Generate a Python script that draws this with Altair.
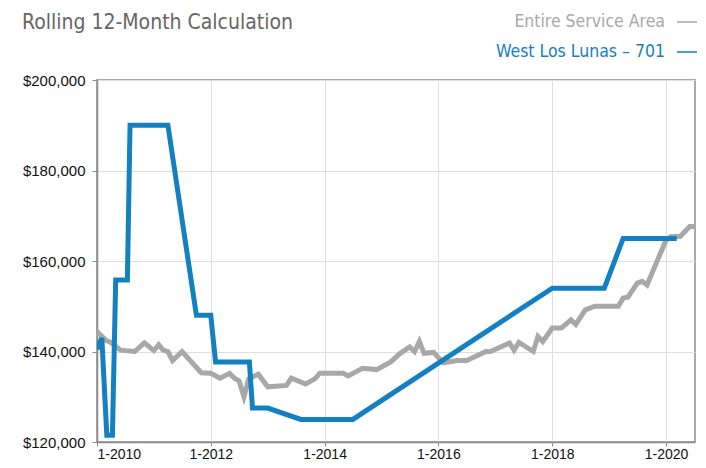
import altair as alt
import pandas as pd

# ---- data ----
gray_name = "Entire Service Area"
blue_name = "West Los Lunas \u2013 701"

gray_dates = ["2010-01-01", "2010-03-01", "2010-04-01", "2010-06-01", "2010-09-01", "2010-11-01",
              "2011-01-01", "2011-02-01", "2011-03-01", "2011-04-01", "2011-05-01", "2011-07-01",
              "2011-11-01", "2012-01-01", "2012-03-01", "2012-05-01", "2012-06-01", "2012-07-01",
              "2012-08-01", "2012-09-01", "2012-11-01", "2013-01-01", "2013-05-01", "2013-06-01",
              "2013-09-01", "2013-11-01", "2013-12-01", "2014-05-01", "2014-06-01", "2014-09-01",
              "2014-12-01", "2015-03-01", "2015-05-01", "2015-07-01", "2015-08-01", "2015-09-01",
              "2015-10-01", "2015-12-01", "2016-02-01", "2016-05-01", "2016-07-01", "2016-11-01",
              "2016-12-01", "2017-04-01", "2017-05-01", "2017-06-01", "2017-09-01", "2017-10-01",
              "2017-11-01", "2018-01-01", "2018-03-01", "2018-05-01", "2018-06-01", "2018-08-01",
              "2018-10-01", "2019-03-01", "2019-04-01", "2019-05-01", "2019-07-01", "2019-08-01",
              "2019-09-01", "2020-01-01", "2020-02-01", "2020-04-01", "2020-06-01", "2020-07-01"]
gray_values = [144400, 142400, 142000, 140300, 140000, 141900,
               140200, 141500, 140300, 140000, 138000, 140000,
               135300, 135200, 134100, 135200, 134100, 133500,
               130000, 134000, 135000, 132200, 132500, 134100,
               132800, 134000, 135200, 135200, 134600, 136300,
               136000, 137700, 139600, 141000, 140000, 142200,
               139600, 139800, 137500, 138000, 138000, 140000,
               140000, 141900, 140300, 142000, 140000, 143300,
               142200, 145200, 145200, 147000, 146000, 149200,
               150000, 150000, 151800, 152000, 155100, 155500,
               154700, 164600, 165400, 165400, 167600, 167600]

blue_dates = ["2010-01-01", "2010-02-01", "2010-03-05", "2010-04-10", "2010-05-01", "2010-07-15",
              "2010-08-01", "2011-04-01", "2011-10-01", "2012-01-01", "2012-02-01", "2012-09-05",
              "2012-09-25", "2013-01-01", "2013-08-01", "2014-07-01", "2018-01-01", "2018-12-01",
              "2019-04-01", "2020-03-10"]
blue_values = [140500, 143000, 121500, 121500, 155800, 155800,
               190000, 190000, 148000, 148000, 137700, 137700,
               127500, 127500, 125000, 125000, 154000, 154000,
               165000, 165000]

y_ticks = [120000, 140000, 160000, 180000, 200000]
x_tick_years = [2010, 2012, 2014, 2016, 2018, 2020]
title_text = "Rolling 12-Month Calculation"

GRAY = "#a8a8a8"
BLUE = "#1580c1"
FONT = "Liberation Sans"
NARROW = "DejaVu Sans Condensed, Roboto, sans-serif"

gray_df = pd.DataFrame({"date": gray_dates, "value": gray_values, "series": gray_name})
blue_df = pd.DataFrame({"date": blue_dates, "value": blue_values, "series": blue_name})

x_enc = alt.X("date:T",
              scale=alt.Scale(type="utc", domain=[alt.DateTime(year=2010, month=1, date=1, utc=True),
                                                  alt.DateTime(year=2020, month=7, date=5, utc=True)]),
              axis=alt.Axis(values=[alt.DateTime(year=y, month=1, date=1, utc=True) for y in x_tick_years],
                            format="1-%Y", title=None, labelPadding=1, tickSize=4, labelFontSize=14))
y_enc = alt.Y("value:Q",
              scale=alt.Scale(domain=[120000, 200000], nice=False, zero=False),
              axis=alt.Axis(values=y_ticks, format="$,.0f", title=None, labelPadding=7, tickSize=5,
                            labelFontSize=15))

gray_line = alt.Chart(gray_df).mark_line(color=GRAY, strokeWidth=5, clip=True).encode(x=x_enc, y=y_enc)
blue_line = alt.Chart(blue_df).mark_line(color=BLUE, strokeWidth=5, clip=True).encode(x=x_enc, y=y_enc)

title_df = pd.DataFrame({"t": [title_text]})
title_mark = alt.Chart(title_df).mark_text(
    align="left", baseline="alphabetic", font=NARROW, fontSize=21, color="#666666"
).encode(x=alt.value(-75), y=alt.value(-51), text="t:N")

leg_gray = alt.Chart(pd.DataFrame({"s": [gray_name]})).mark_text(
    align="right", baseline="alphabetic", font=NARROW, fontSize=17.5, color=GRAY
).encode(x=alt.value(568), y=alt.value(-53), text="s:N")
leg_blue = alt.Chart(pd.DataFrame({"s": [blue_name]})).mark_text(
    align="right", baseline="alphabetic", font=NARROW, fontSize=17.5, color=BLUE
).encode(x=alt.value(568), y=alt.value(-23), text="s:N")
dash_gray = alt.Chart(pd.DataFrame({"s": [gray_name]})).mark_rule(color=GRAY, strokeWidth=1.5).encode(
    x=alt.value(580), x2=alt.value(600), y=alt.value(-58))
dash_blue = alt.Chart(pd.DataFrame({"s": [blue_name]})).mark_rule(color=BLUE, strokeWidth=1.5).encode(
    x=alt.value(580), x2=alt.value(600), y=alt.value(-28))

chart = alt.layer(gray_line, blue_line, title_mark, leg_gray, leg_blue, dash_gray, dash_blue).properties(
    width=598, height=362,
    autosize=alt.AutoSizeParams(type="none"),
    padding={"left": 89, "top": 72, "right": 3, "bottom": 18},
).configure_view(
    stroke="#8c8c8c", strokeWidth=1.5
).configure_axis(
    labelFont=FONT, labelColor="#111111",
    domainColor="#8c8c8c", domainWidth=1.5,
    tickColor="#8c8c8c",
    gridColor="#dedede", gridWidth=1, grid=True,
)

chart.save("out.html", embed_options={"renderer": "svg", "actions": False})
